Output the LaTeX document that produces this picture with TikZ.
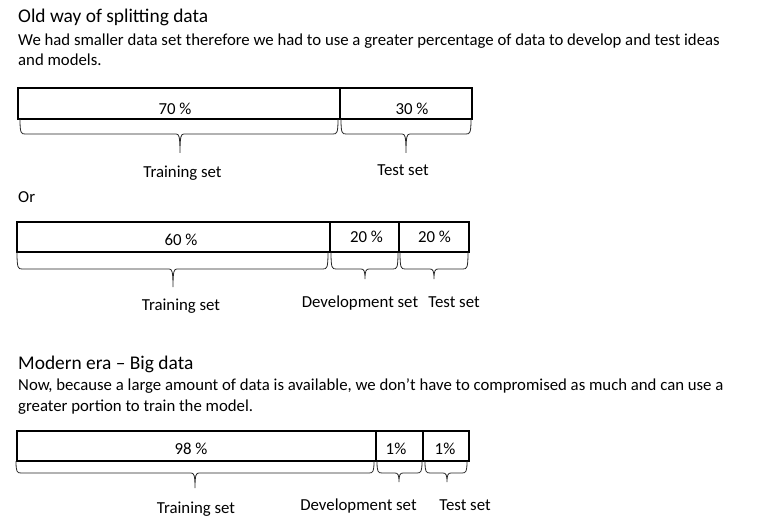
\documentclass[tikz,border=0pt]{standalone}
\usepackage{fontspec}
\setmainfont{Carlito}
\begin{document}
\begin{tikzpicture}[x=1pt,y=-1pt,
  seg/.style={draw=black, line width=1.4pt, inner sep=0pt, outer sep=0pt, anchor=north west},
  lbl/.style={anchor=base, inner sep=0pt, font=\fontsize{16.8}{19}\selectfont},
  txt/.style={anchor=base west, inner sep=0pt, font=\fontsize{16.75}{19}\selectfont},
  ttl/.style={anchor=base west, inner sep=0pt, font=\fontsize{19.4}{22}\selectfont},
  brc/.style={draw=black!85, line width=0.8pt}]
\useasboundingbox (0,0) rectangle (776,529);
\newcommand{\wbrace}[6]{% x1 x2 xtip ytop yh ytip
  \draw[brc] (#1,#4) .. controls (#1,{#5-1}) and ({#1+1},#5) .. ({#1+5},#5) -- ({#3-4},#5)
     .. controls ({#3-1},#5) and (#3,{#5+2}) .. (#3,#6)
     (#3,#6) .. controls (#3,{#5+2}) and ({#3+1},#5) .. ({#3+4},#5)
     -- ({#2-5},#5) .. controls ({#2-1},#5) and (#2,{#5-1}) .. (#2,#4);}

% ---------- Old way ----------
\node[ttl] (t1) at (18,23) {Old way of splitting data};
\node[txt] (b1) at (18,46) {We had smaller data set therefore we had to use a greater percentage of data to develop and test ideas};
\node[txt] (b2) at (18,66) {and models.};

\node[seg, minimum width=322, minimum height=31] (a1) at (18,88) {};
\node[seg, minimum width=132, minimum height=31] (a2) at (340,88) {};
\node[lbl] (p70) at (175,115) {70 \%};
\node[lbl] (p30) at (412,115) {30 \%};
\wbrace{20}{338}{180}{119}{134}{153}
\wbrace{341}{471}{406}{119}{134}{153}
\node[lbl] (l1) at (182.5,178) {Training set};
\node[lbl] (l2) at (403,176) {Test set};

\node[txt] (or) at (18,203) {Or};

\node[seg, minimum width=313, minimum height=30] (c1) at (17,222) {};
\node[seg, minimum width=69, minimum height=30] (c2) at (330,222) {};
\node[seg, minimum width=70, minimum height=30] (c3) at (399,222) {};
\node[lbl] (p60) at (181,246) {60 \%};
\node[lbl] (p20a) at (366.5,243) {20 \%};
\node[lbl] (p20b) at (434.5,243) {20 \%};
\wbrace{17}{328}{173}{252}{269}{287}
\wbrace{331}{398}{365}{252}{269}{279}
\wbrace{400}{468}{434}{252}{269}{279}
\node[lbl] (l3) at (181,310) {Training set};
\node[lbl] (l4) at (360,307) {Development set};
\node[lbl] (l5) at (454,307) {Test set};

% ---------- Modern era ----------
\node[ttl] (t2) at (18,369) {Modern era -- Big data};
\node[txt] (b3) at (18,390) {Now, because a large amount of data is available, we don’t have to compromised as much and can use a};
\node[txt] (b4) at (18,411) {greater portion to train the model.};

\node[seg, minimum width=359, minimum height=30] (d1) at (17,431) {};
\node[seg, minimum width=47, minimum height=30] (d2) at (376,431) {};
\node[seg, minimum width=46, minimum height=30] (d3) at (423,431) {};
\node[lbl] (p98) at (191,454) {98 \%};
\node[lbl] (p1a) at (396,454) {1\%};
\node[lbl] (p1b) at (445,454) {1\%};
\wbrace{16}{374}{195}{461}{473}{488}
\wbrace{377}{422}{399}{461}{473}{482}
\wbrace{425}{467}{447}{461}{473}{482}
\node[lbl] (l6) at (196,513) {Training set};
\node[lbl] (l7) at (358.5,510) {Development set};
\node[lbl] (l8) at (465,510) {Test set};
\end{tikzpicture}
\end{document}
